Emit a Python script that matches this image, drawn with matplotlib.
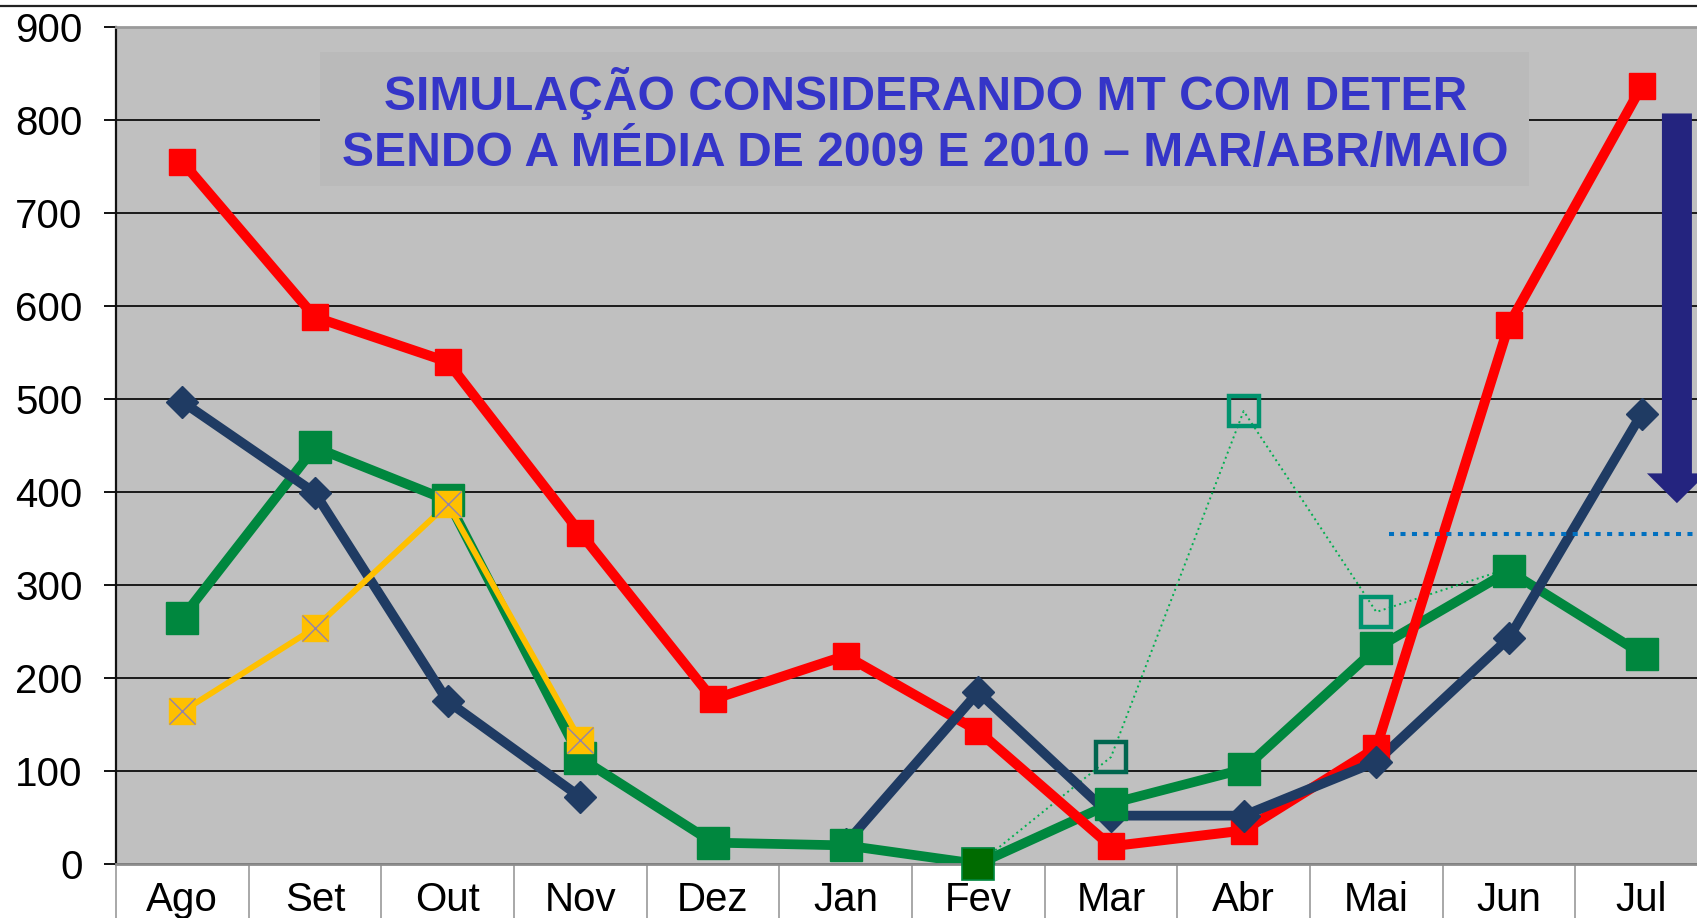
import matplotlib
matplotlib.use('Agg')
import matplotlib.pyplot as plt
from matplotlib.patches import Rectangle, Polygon
from matplotlib.lines import Line2D
import numpy as np

plt.rcParams['font.family'] = ['Liberation Sans', 'DejaVu Sans']

# ---------------- data ----------------
months = ['Ago', 'Set', 'Out', 'Nov', 'Dez', 'Jan', 'Fev', 'Mar', 'Abr', 'Mai', 'Jun', 'Jul']
red_vals = [755, 588, 540, 356, 177, 224, 143, 19, 36, 125, 580, 836]
navy_vals = [497, 399, 175, 72, None, 22, 185, 52, 52, 110, 243, 484]
green_vals = [265, 448, 391, 114, 23, 20, 0, 65, 102, 232, 315, 226]
yellow_vals = [164, 254, 387, 133, None, None, None, None, None, None, None, None]
sim_vals = [None, None, None, None, None, None, 0, 115, 487, 271, 318, None]
yticks = [0, 100, 200, 300, 400, 500, 600, 700, 800, 900]
ref_level = 355
title_lines = ['SIMULAÇÃO CONSIDERANDO MT COM DETER',
               'SENDO A MÉDIA DE 2009 E 2010 – MAR/ABR/MAIO']


def arr(v):
    return np.array([np.nan if a is None else a for a in v], dtype=float)


x = np.arange(len(months))

fig = plt.figure(figsize=(16.97, 9.18), dpi=100)
fig.patch.set_facecolor('white')
ax = fig.add_axes([0.06836, 0.05882, 0.9381, 0.9118])
ax.set_facecolor('#C0C0C0')
ax.set_xlim(-0.5, 11.5)
ax.set_ylim(0, 900)

# grid
ax.set_axisbelow(True)
ax.yaxis.grid(True, color='#1a1a1a', linewidth=1.4)
ax.xaxis.grid(False)

# spines
ax.spines['right'].set_visible(False)
ax.spines['top'].set_color('#9a9a9a')
ax.spines['top'].set_linewidth(2)
ax.spines['bottom'].set_color('#8c8c8c')
ax.spines['bottom'].set_linewidth(2)
ax.spines['left'].set_color('#111111')
ax.spines['left'].set_linewidth(1.6)

# ticks
ax.set_yticks(yticks)
ax.set_yticklabels([str(t) for t in yticks], fontsize=29)
ax.tick_params(axis='y', direction='out', length=9, width=1.4, color='#111111', pad=15)
ax.set_xticks(x)
ax.set_xticklabels(months, fontsize=29)
ax.set_xticks(np.arange(-0.5, 12, 1), minor=True)
ax.tick_params(axis='x', which='major', length=0, pad=12)
ax.tick_params(axis='x', which='minor', length=40, width=1.4, color='#a8a8a8', direction='out')

# title box
box = Rectangle((1.038, 729), 9.11, 144, facecolor='#BABABA', edgecolor='none', zorder=1.5)
ax.add_patch(box)
ax.text(5.6, 828, title_lines[0], ha='center', va='center', fontsize=34.6,
        fontweight='bold', color='#3535C8', zorder=1.6)
ax.text(5.6, 764, title_lines[1], ha='center', va='center', fontsize=34.6,
        fontweight='bold', color='#3535C8', zorder=1.6)

# lines
red = arr(red_vals)
navy = arr(navy_vals)
green = arr(green_vals)
yellow = arr(yellow_vals)
sim = arr(sim_vals)

ax.plot(x, sim, color='#00B050', lw=1.4, linestyle=(0, (1, 1.8)), zorder=2.0)
ax.plot(x, green, color='#00873E', lw=7.0, zorder=2.2, solid_capstyle='butt')
ax.plot(x, red, color='#FF0000', lw=7.2, zorder=2.3, solid_capstyle='butt')
ax.plot(x, navy, color='#1F3B63', lw=7.0, zorder=2.4, solid_capstyle='butt')
ax.plot(x, yellow, color='#FFC000', lw=4.2, zorder=2.5, solid_capstyle='butt')

# markers
ax.plot(x, red, linestyle='none', marker='s', ms=19, color='#FF0000', zorder=3.1)
ax.plot(x, navy, linestyle='none', marker='D', ms=16.5, color='#1F3B63', zorder=3.2)
ax.plot(x, green, linestyle='none', marker='s', ms=23, color='#00873E', zorder=3.3)
ax.plot(x, yellow, linestyle='none', marker='s', ms=18.5, color='#FFC000', zorder=3.4)
ax.plot(x, yellow, linestyle='none', marker='x', ms=18.5, mew=1.0, color='#9484A8', zorder=3.5)

# simulated points (dotted series)
sim_face = [None, None, None, None, None, None, '#006B00', 'none', 'none', 'none', None, None]
sim_edge = [None, None, None, None, None, None, '#00873E', '#00664F', '#00936E', '#00936E', None, None]
for i in range(len(months)):
    if sim_face[i] is None or np.isnan(sim[i]):
        continue
    filled = sim_face[i] != 'none'
    ax.plot([x[i]], [sim[i]], linestyle='none', marker='s', ms=22.5 if filled else 21.5,
            markerfacecolor=sim_face[i], markeredgecolor=sim_edge[i],
            mew=1.2 if filled else 3.2, zorder=3.6, clip_on=False)

# reference dotted line
ref_start = 9.095
ax.plot([ref_start, 11.6], [ref_level, ref_level], color='#0070C0', lw=2.9,
        linestyle=(0, (1.25, 1.6)), dash_capstyle='butt', zorder=3.0, clip_on=False)

# big arrow
ax_x = 11.266
shaft_hw = 0.113
head_hw = 0.226
arrow_top = 807
head_base = 420
arrow_tip = 388
pts = [(ax_x - shaft_hw, arrow_top), (ax_x + shaft_hw, arrow_top),
       (ax_x + shaft_hw, head_base), (ax_x + head_hw, head_base),
       (ax_x, arrow_tip), (ax_x - head_hw, head_base),
       (ax_x - shaft_hw, head_base)]
ax.add_patch(Polygon(pts, closed=True, facecolor='#24247F', edgecolor='none',
                     zorder=5, clip_on=False))

# top black line
fig.add_artist(Line2D([0, 1], [1 - 6 / 918, 1 - 6 / 918], transform=fig.transFigure,
                      color='#222222', lw=1.6))

fig.savefig('out.png', dpi=100, facecolor='white')
